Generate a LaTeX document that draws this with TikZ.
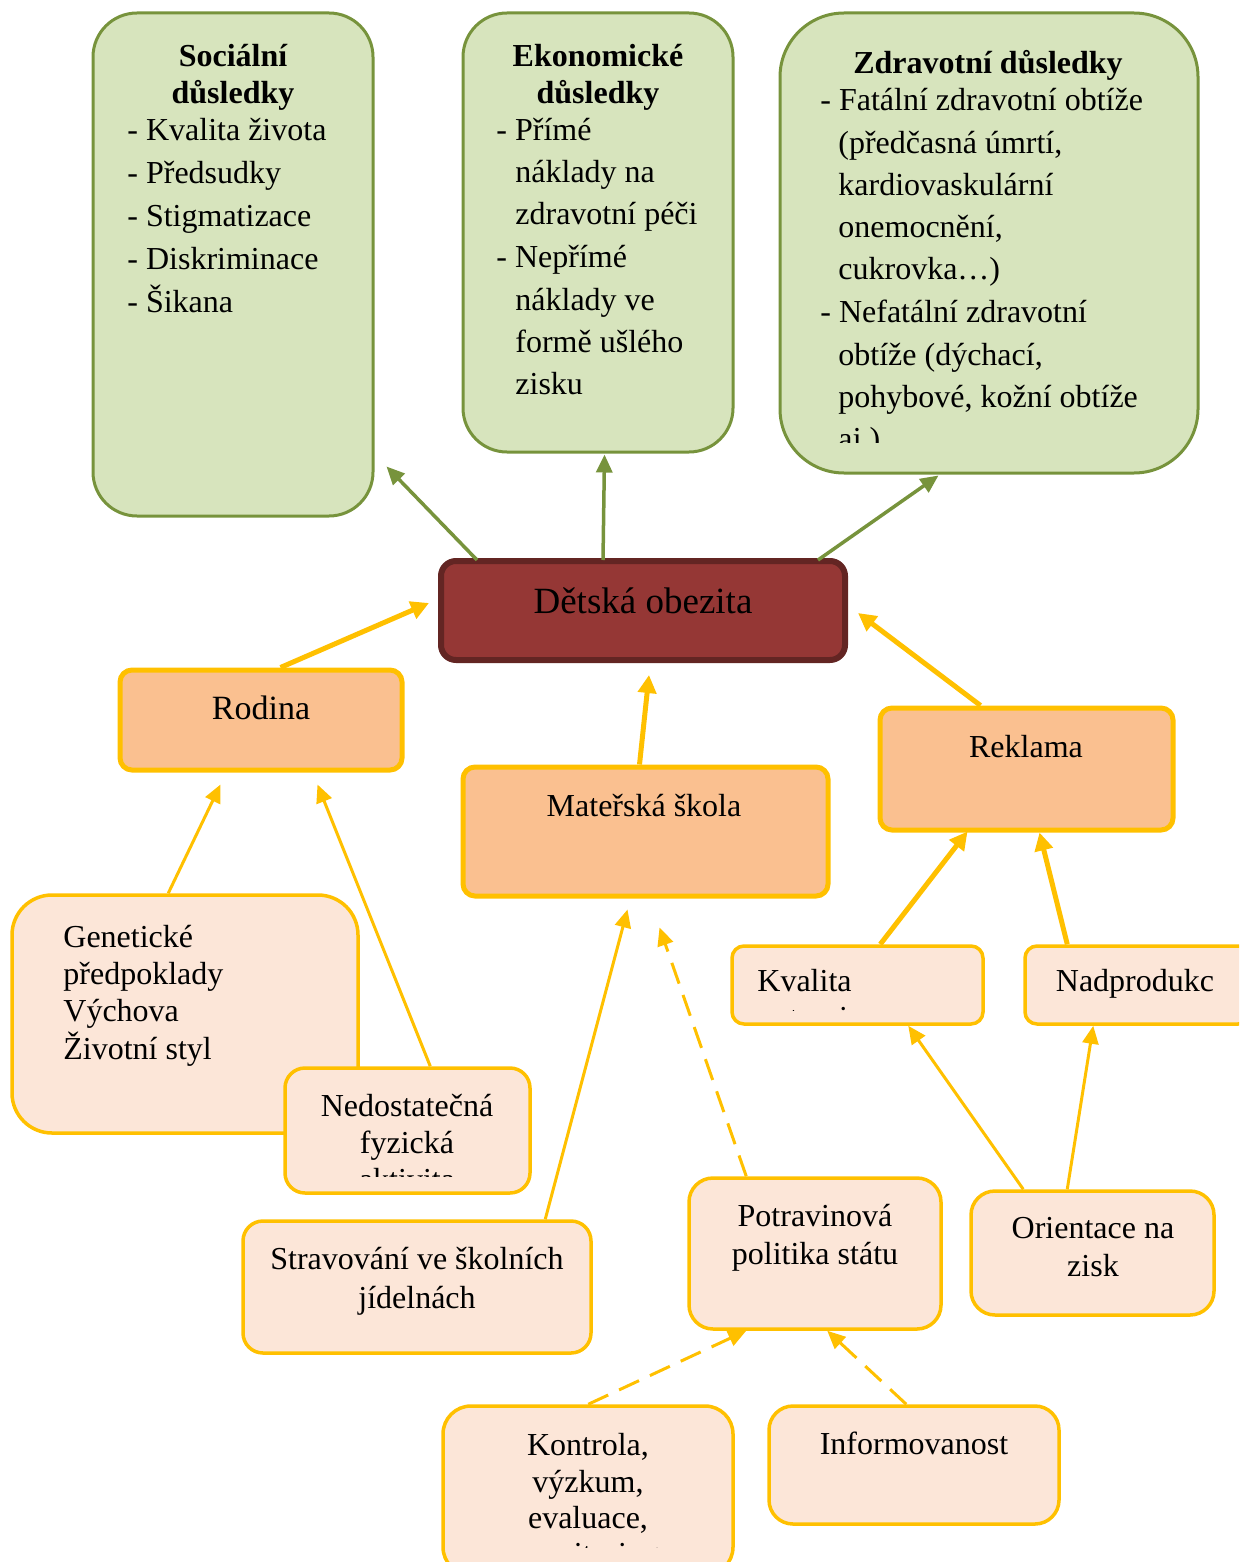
\documentclass[tikz,border=0pt]{standalone}
\usepackage{fontspec}
\setmainfont{Liberation Serif}
\usetikzlibrary{arrows.meta,calc}
\definecolor{gfill}{HTML}{D7E4BD}
\definecolor{gline}{HTML}{77933C}
\definecolor{rfill}{HTML}{953735}
\definecolor{rline}{HTML}{632523}
\definecolor{ofill}{HTML}{FAC090}
\definecolor{yline}{HTML}{FFC000}
\definecolor{pfill}{HTML}{FCE6D8}
\tikzset{
 greenbox/.style={draw=gline, fill=gfill, line width=1.5pt, inner sep=0pt},
 mainbox/.style={draw=rline, fill=rfill, line width=3pt, rounded corners=7.5pt, inner sep=0pt},
 orangebox/.style={draw=yline, fill=ofill, line width=2.5pt, rounded corners=6pt, inner sep=0pt},
 peachbox/.style={draw=yline, fill=pfill, line width=1.75pt, inner sep=0pt},
 txt/.style={inner sep=0pt, yshift=-3.2pt, font=\fontsize{16}{18}\selectfont},
 btxt/.style={inner sep=0pt, yshift=-3.2pt, font=\fontsize{16}{18}\selectfont\bfseries},
 garrow/.style={draw=gline, line width=1.75pt, -{Triangle[length=9pt,width=8pt]}},
 yarrow/.style={draw=yline, line width=2.5pt, -{Triangle[length=9pt,width=9pt]}},
 ythin/.style={draw=yline, line width=1.5pt, -{Triangle[length=9pt,width=8pt]}},
 ydash/.style={ythin, dash pattern=on 11pt off 6pt},
}
\begin{document}
\begin{tikzpicture}[x=0.5pt,y=-0.5pt]
\useasboundingbox (0,0) rectangle (1239,1562);
\clip (0,0) rectangle (1239,1562);

% green boxes
\node[greenbox, rounded corners=22pt, minimum width=140pt, minimum height=251.5pt] (soc) at (233,264.5) {};
\node[greenbox, rounded corners=22pt, minimum width=135pt, minimum height=219.5pt] (eko) at (598,232.5) {};
\node[greenbox, rounded corners=32pt, minimum width=209pt, minimum height=230pt] (zdr) at (989,243) {};

\node[btxt, anchor=mid] (soc-t1) at (233,56) {Sociální};
\node[btxt, anchor=mid] (soc-t2) at (233,93) {důsledky};
\node[txt, anchor=mid west] (soc-l1) at (127,130) {- Kvalita života};
\node[txt, anchor=mid west] (soc-l2) at (127,173) {- Předsudky};
\node[txt, anchor=mid west] (soc-l3) at (127,216) {- Stigmatizace};
\node[txt, anchor=mid west] (soc-l4) at (127,259) {- Diskriminace};
\node[txt, anchor=mid west] (soc-l5) at (127,302) {- Šikana};

\node[btxt, anchor=mid] (eko-t1) at (598,56) {Ekonomické};
\node[btxt, anchor=mid] (eko-t2) at (598,93) {důsledky};
\node[txt, anchor=mid west] (eko-l1) at (496,130) {- Přímé};
\node[txt, anchor=mid west] (eko-l2) at (515,172) {náklady na};
\node[txt, anchor=mid west] (eko-l3) at (515,214) {zdravotní péči};
\node[txt, anchor=mid west] (eko-l4) at (496,257) {- Nepřímé};
\node[txt, anchor=mid west] (eko-l5) at (515,300) {náklady ve};
\node[txt, anchor=mid west] (eko-l6) at (515,342) {formě ušlého};
\node[txt, anchor=mid west] (eko-l7) at (515,384) {zisku};

\node[btxt, anchor=mid] (zdr-t1) at (988,63) {Zdravotní důsledky};
\begin{scope}
\clip (780,20) rectangle (1198,442);
\node[txt, anchor=mid west] (zdr-l1) at (820,100) {- Fatální zdravotní obtíže};
\node[txt, anchor=mid west] (zdr-l2) at (838,143) {(předčasná úmrtí,};
\node[txt, anchor=mid west] (zdr-l3) at (838,185) {kardiovaskulární};
\node[txt, anchor=mid west] (zdr-l4) at (838,227) {onemocnění,};
\node[txt, anchor=mid west] (zdr-l5) at (838,269) {cukrovka…)};
\node[txt, anchor=mid west] (zdr-l6) at (820,312) {- Nefatální zdravotní};
\node[txt, anchor=mid west] (zdr-l7) at (838,355) {obtíže (dýchací,};
\node[txt, anchor=mid west] (zdr-l8) at (838,397) {pohybové, kožní obtíže};
\node[txt, anchor=mid west] (zdr-l9) at (838,439) {aj.)};
\end{scope}

% main node
\node[mainbox, minimum width=202pt, minimum height=49.5pt] (dt) at (643,610.5) {};
\node[txt, font=\fontsize{18.5}{20}\selectfont, anchor=mid] (dt-t) at (643,603) {Dětská obezita};

% orange boxes
\node[orangebox, minimum width=141pt, minimum height=50pt] (rod) at (261,720) {};
\node[txt, font=\fontsize{17}{19}\selectfont, anchor=mid] (rod-t) at (261,709) {Rodina};
\node[orangebox, minimum width=182.5pt, minimum height=64.5pt] (mat) at (645.5,831.5) {};
\node[txt, anchor=mid] (mat-t) at (644,806) {Mateřská škola};
\node[orangebox, minimum width=146.5pt, minimum height=61pt] (rek) at (1026.5,769) {};
\node[txt, anchor=mid] (rek-t) at (1026,747) {Reklama};

% peach boxes
\node[peachbox, rounded corners=20pt, minimum width=173pt, minimum height=119pt] (gen) at (185,1014) {};
\node[txt, anchor=mid west] (gen-l1) at (63,936) {Genetické};
\node[txt, anchor=mid west] (gen-l2) at (63,973) {předpoklady};
\node[txt, anchor=mid west] (gen-l3) at (63,1010) {Výchova};
\node[txt, anchor=mid west] (gen-l4) at (63,1048) {Životní styl};

\node[peachbox, rounded corners=10pt, minimum width=122.5pt, minimum height=62.5pt] (ned) at (407.5,1130.5) {};
\begin{scope}
\clip (285,1068) rectangle (530,1176);
\node[txt, anchor=mid] (ned-l1) at (407,1105) {Nedostatečná};
\node[txt, anchor=mid] (ned-l2) at (407,1142) {fyzická};
\node[txt, anchor=mid] (ned-l3) at (407,1179) {aktivita};
\end{scope}

\node[peachbox, rounded corners=6pt, minimum width=125.5pt, minimum height=39pt] (kva) at (857.5,985) {};
\begin{scope}
\clip (732,946) rectangle (983,1010);
\node[txt, anchor=mid west] (kva-l1) at (757,980) {Kvalita};
\node[txt, anchor=mid west] (kva-l2) at (757,1017) {potravin};
\end{scope}

\node[peachbox, rounded corners=6pt, minimum width=112.5pt, minimum height=39pt] (nad) at (1137.5,985) {};
\node[txt, anchor=mid] (nad-t) at (1135,980) {Nadprodukc};

\node[peachbox, rounded corners=10pt, minimum width=174pt, minimum height=66pt] (str) at (417,1287) {};
\node[txt, anchor=mid] (str-l1) at (417,1258) {Stravování ve školních};
\node[txt, anchor=mid] (str-l2) at (417,1297) {jídelnách};

\node[peachbox, rounded corners=12pt, minimum width=126pt, minimum height=75.5pt] (pot) at (815,1253.5) {};
\node[txt, anchor=mid] (pot-l1) at (815,1215) {Potravinová};
\node[txt, anchor=mid] (pot-l2) at (815,1253) {politika státu};

\node[peachbox, rounded corners=12pt, minimum width=121.5pt, minimum height=62pt] (ori) at (1092.5,1253) {};
\node[txt, anchor=mid] (ori-l1) at (1093,1227) {Orientace na};
\node[txt, anchor=mid] (ori-l2) at (1093,1265) {zisk};

\node[peachbox, rounded corners=14pt, minimum width=145pt, minimum height=84.5pt] (kon) at (588,1490.5) {};
\begin{scope}
\clip (443,1406) rectangle (733,1547);
\node[txt, anchor=mid] (kon-l1) at (588,1444) {Kontrola,};
\node[txt, anchor=mid] (kon-l2) at (588,1481) {výzkum,};
\node[txt, anchor=mid] (kon-l3) at (588,1517) {evaluace,};
\node[txt, anchor=mid] (kon-l4) at (588,1553) {monitoring};
\end{scope}

\node[peachbox, rounded corners=12pt, minimum width=145pt, minimum height=59pt] (inf) at (914,1465) {};
\node[txt, anchor=mid] (inf-t) at (914,1443) {Informovanost};

% arrows
\draw[garrow] ($(dt.north west)+(39,2)$) -- ($(soc.south east)+(12,-51)$);
\draw[garrow] ($(dt.north west)+(165,2)$) -- ($(eko.south west)+(143,1)$);
\draw[garrow] ($(dt.north east)+(-30,2)$) -- ($(zdr.south west)+(160,1)$);

\draw[yarrow] ($(rod.north west)+(163,0)$) -- ($(dt.west)+(-9,-7.5)$);
\draw[yarrow] ($(mat.north west)+(179,0)$) -- ($(dt.south west)+(211,12)$);
\draw[yarrow] ($(rek.north west)+(103,0)$) -- ($(dt.east)+(10,2.5)$);

\draw[ythin] ($(gen.north west)+(158,0)$) -- ($(rod.south west)+(103,12)$);
\draw[ythin] ($(ned.north west)+(147,0)$) -- ($(rod.south west)+(200,12)$);
\draw[ythin] ($(str.north west)+(304,0)$) -- ($(mat.south west)+(167,11)$);
\draw[ydash] ($(pot.north west)+(59,0)$) -- ($(mat.south west)+(199,29)$);

\draw[yarrow] ($(kva.north west)+(150,0)$) -- ($(rek.south west)+(90,-1)$);
\draw[yarrow] ($(nad.north west)+(44,0)$) -- ($(rek.south west)+(162,0)$);
\draw[ythin] ($(ori.north west)+(54,0)$) -- ($(kva.south west)+(178,0)$);
\draw[ythin] ($(ori.north west)+(98,0)$) -- ($(nad.south west)+(70,0)$);

\draw[ydash] ($(kon.north west)+(147,0)$) -- ($(pot.south west)+(59,0)$);
\draw[ydash] ($(inf.north west)+(139,0)$) -- ($(pot.south west)+(140,0)$);
\end{tikzpicture}
\end{document}
